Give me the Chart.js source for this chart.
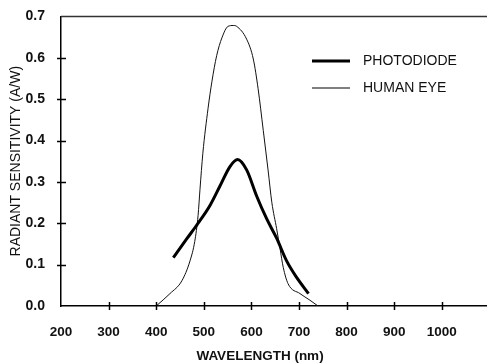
<!DOCTYPE html>
<html>
<head>
<meta charset="utf-8">
<script src="https://cdn.jsdelivr.net/npm/chart.js@4/dist/chart.umd.min.js"></script>
<style>
  html, body { margin: 0; padding: 0; background: #fff; }
  #wrap { width: 487px; height: 364px; }
</style>
</head>
<body>
<div id="wrap"><canvas id="chart" width="487" height="364"></canvas></div>
<script>
const eyeX = [400, 429, 454, 471, 481, 488, 492, 498, 509, 517, 527, 538, 551, 562, 569, 590, 604, 614, 625, 635, 643, 653, 660, 667, 677, 702, 723, 740];
const eyeY = [0.0, 0.03, 0.061, 0.109, 0.156, 0.219, 0.282, 0.369, 0.478, 0.542, 0.605, 0.648, 0.676, 0.678, 0.676, 0.645, 0.597, 0.526, 0.424, 0.329, 0.25, 0.187, 0.14, 0.093, 0.054, 0.03, 0.014, 0.0];

const diodeX = [436, 464, 488, 513, 534, 555, 571, 590, 611, 632, 653, 674, 695, 720];
const diodeY = [0.117, 0.162, 0.2, 0.243, 0.29, 0.337, 0.354, 0.329, 0.266, 0.211, 0.164, 0.109, 0.069, 0.03];

const xTicks = [200, 300, 400, 500, 600, 700, 800, 900, 1000];
const yTicks = [0.0, 0.1, 0.2, 0.3, 0.4, 0.5, 0.6, 0.7];

const FONT = "Arial, 'Liberation Sans', sans-serif";

function toPoints(xs, ys) {
  return xs.map((x, i) => ({ x: x, y: ys[i] }));
}

// crossing tick marks, top frame line, legend and x title
const decor = {
  id: "decor",
  afterDraw(chart) {
    const ctx = chart.ctx;
    const area = chart.chartArea;
    const xs = chart.scales.x;
    const ys = chart.scales.y;
    ctx.save();
    ctx.strokeStyle = "#000";
    ctx.lineWidth = 1.5;

    xTicks.slice(1).forEach((v) => {
      const px = Math.round(xs.getPixelForValue(v)) + 0.5;
      ctx.beginPath();
      ctx.moveTo(px, area.bottom - 4);
      ctx.lineTo(px, area.bottom + 4);
      ctx.stroke();
    });
    yTicks.slice(1, -1).forEach((v) => {
      const py = Math.round(ys.getPixelForValue(v)) + 0.5;
      ctx.beginPath();
      ctx.moveTo(area.left - 4, py);
      ctx.lineTo(area.left + 5, py);
      ctx.stroke();
    });

    ctx.strokeStyle = "#333";
    ctx.beginPath();
    ctx.moveTo(area.left, area.top);
    ctx.lineTo(area.right, area.top);
    ctx.stroke();

    // legend
    const items = chart.data.datasets;
    ctx.font = "14px " + FONT;
    ctx.textBaseline = "middle";
    ctx.fillStyle = "#111";
    items.forEach((ds, i) => {
      const y = 61 + i * 27;
      ctx.strokeStyle = "#000";
      ctx.lineWidth = ds.borderWidth;
      ctx.beginPath();
      ctx.moveTo(312, y);
      ctx.lineTo(350, y);
      ctx.stroke();
      ctx.fillText(ds.label, 363, y);
    });

    ctx.font = "bold 13.5px " + FONT;
    ctx.textAlign = "center";
    ctx.fillText("WAVELENGTH (nm)", 260, 356);
    ctx.restore();
  },
};

new Chart(document.getElementById("chart").getContext("2d"), {
  type: "scatter",
  data: {
    datasets: [
      {
        label: "PHOTODIODE",
        data: toPoints(diodeX, diodeY),
        showLine: true,
        borderColor: "#000",
        borderWidth: 3,
        pointRadius: 0,
        cubicInterpolationMode: "monotone",
      },
      {
        label: "HUMAN EYE",
        data: toPoints(eyeX, eyeY),
        showLine: true,
        borderColor: "#111",
        borderWidth: 1,
        pointRadius: 0,
        cubicInterpolationMode: "monotone",
      },
    ],
  },
  options: {
    responsive: false,
    animation: false,
    layout: { padding: { top: 10, right: 0, left: 0, bottom: 0 } },
    plugins: { legend: { display: false }, tooltip: { enabled: false } },
    scales: {
      x: {
        type: "linear",
        min: 200,
        max: 1095,
        afterBuildTicks: (scale) => {
          scale.ticks = xTicks.map((v) => ({ value: v }));
        },
        afterFit: (scale) => {
          scale.height = 58;
        },
        grid: { display: false },
        border: { display: true, color: "#000", width: 1.5 },
        ticks: {
          color: "#111",
          padding: 10,
          maxRotation: 0,
          autoSkip: false,
          font: { family: FONT, size: 13.5, weight: "bold" },
          callback: (v) => String(v),
        },
      },
      y: {
        min: 0,
        max: 0.7,
        afterBuildTicks: (scale) => {
          scale.ticks = yTicks.map((v) => ({ value: v }));
        },
        afterFit: (scale) => {
          scale.width = 61;
        },
        grid: { display: false },
        border: { display: true, color: "#000", width: 1.5 },
        title: {
          display: true,
          text: "RADIANT SENSITIVITY (A/W)",
          color: "#111",
          padding: { top: 8 },
          font: { family: FONT, size: 14 },
        },
        ticks: {
          color: "#111",
          padding: 8,
          font: { family: FONT, size: 14, weight: "bold" },
          callback: (v) => v.toFixed(1),
        },
      },
    },
  },
  plugins: [decor],
});
</script>
</body>
</html>
